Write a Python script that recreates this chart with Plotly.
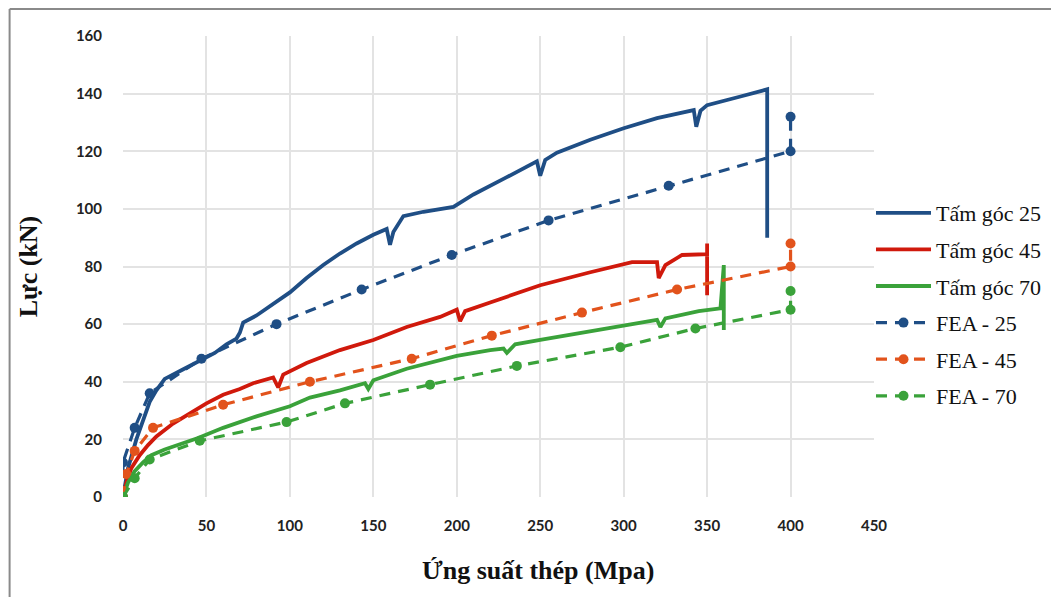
import plotly.graph_objects as go

# ---- data ----
x_t25 = [0, 3, 8, 12, 16, 20, 25, 35, 46, 55, 62, 68, 70, 72, 80, 90, 100, 110, 120, 130, 140, 150, 158, 160, 162,
         168, 180, 198, 210, 230, 248, 250, 253, 260, 280, 300, 320, 342, 343.5, 346, 350, 370, 386, 386]
y_t25 = [0, 10, 20, 27, 33, 37, 41, 44, 47.5, 50, 53, 55, 57, 60.5, 63, 67, 71, 76, 80.5, 84.5, 88, 91, 93, 87.5, 92,
         97.5, 99, 100.7, 105, 111, 116.5, 111.5, 117, 119.5, 124, 128, 131.5, 134.3, 128.5, 134, 136, 139, 141.5, 90]

x_t45 = [0, 2, 5, 10, 15, 20, 30, 40, 50, 60, 70, 78, 90, 93, 96, 110, 130, 150, 170, 190, 200, 202, 205, 220,
         250, 280, 305, 320, 321, 325, 335, 350, 350, 350]
y_t45 = [0, 5, 10, 14.5, 18, 21, 25.5, 29, 32.5, 35.5, 37.5, 39.5, 41.5, 38, 42.5, 46.5, 51, 54.5, 59, 62.5, 65, 61,
         64.5, 67.5, 73.5, 78, 81.5, 81.5, 76, 80.5, 84, 84.3, 88, 70]

x_t70 = [0, 3, 7, 12, 17, 25, 35, 45, 60, 80, 100, 112, 130, 145, 147, 150, 170, 200, 220, 228, 230, 235, 250,
         270, 290, 310, 320, 322, 325, 345, 358, 360, 360]
y_t70 = [0, 5, 9, 12, 14.5, 16.5, 18.5, 20.5, 24, 28, 31.5, 34.5, 37, 39.5, 37.5, 40.5, 44.5, 49, 51, 51.5, 50, 53,
         54.5, 56.5, 58.5, 60.5, 61.5, 59, 62, 64.5, 65.5, 80.5, 58]

x_f25 = [0, 0, 7, 16, 47, 92, 143, 197, 255, 327, 400, 400]
y_f25 = [0, 12, 24, 36, 48, 60, 72, 84, 96, 108, 120, 132]

x_f45 = [0, 2, 7, 18, 60, 112, 173, 221, 275, 332, 400, 400]
y_f45 = [0, 8, 16, 24, 32, 40, 48, 56, 64, 72, 80, 88]

x_f70 = [0, 7, 16, 46, 98, 133, 184, 236, 298, 343, 400, 400]
y_f70 = [0, 6.5, 13, 19.5, 26, 32.5, 39, 45.5, 52, 58.5, 65, 71.5]

x_ticks = [0, 50, 100, 150, 200, 250, 300, 350, 400, 450]
y_ticks = [0, 20, 40, 60, 80, 100, 120, 140, 160]

BLUE = "#1f4e85"
RED = "#d0190c"
ORANGE = "#e2531c"
GREEN = "#3aa23a"

fig = go.Figure()
fig.add_trace(go.Scatter(x=x_t25, y=y_t25, mode="lines", name="Tấm góc 25", legendgroup="a",
                         line=dict(color=BLUE, width=3.8)))
fig.add_trace(go.Scatter(x=x_t45, y=y_t45, mode="lines", name="Tấm góc 45", legendgroup="b",
                         line=dict(color=RED, width=3.8)))
fig.add_trace(go.Scatter(x=x_t70, y=y_t70, mode="lines", name="Tấm góc 70", legendgroup="c",
                         line=dict(color=GREEN, width=3.8)))
fig.add_trace(go.Scatter(x=x_f25, y=y_f25, mode="lines+markers", name="FEA - 25", legendgroup="d",
                         line=dict(color=BLUE, width=3.2, dash="11px,8px"),
                         marker=dict(color=BLUE, size=10)))
fig.add_trace(go.Scatter(x=x_f45, y=y_f45, mode="lines+markers", name="FEA - 45", legendgroup="e",
                         line=dict(color=ORANGE, width=3.2, dash="11px,8px"),
                         marker=dict(color=ORANGE, size=10)))
fig.add_trace(go.Scatter(x=x_f70, y=y_f70, mode="lines+markers", name="FEA - 70", legendgroup="f",
                         line=dict(color=GREEN, width=3.2, dash="11px,8px"),
                         marker=dict(color=GREEN, size=10)))

# outer frame (left and top edges of the chart area)
fig.add_shape(type="line", xref="paper", yref="paper", x0=-0.151, x1=1.3, y0=1.0586, y1=1.0586,
              line=dict(color="#8a8a8a", width=2))
fig.add_shape(type="line", xref="paper", yref="paper", x0=-0.151, x1=-0.151, y0=-0.25, y1=1.0586,
              line=dict(color="#8a8a8a", width=2))

serif = "Liberation Serif, Times New Roman, serif"
fig.add_annotation(text="Ứng suất thép (Mpa)", xref="paper", yref="paper",
                   x=(540 - 123) / 755, y=-(570 - 497) / 461, xanchor="center", yanchor="middle",
                   showarrow=False, font=dict(family=serif, size=26, color="#111111", weight="bold"))

tickfont = dict(family="Lato, Open Sans, sans-serif", size=15, color="#222222", weight="bold")
fig.update_layout(
    width=1051, height=589,
    paper_bgcolor="white", plot_bgcolor="white",
    margin=dict(l=115, r=181, t=28, b=100),
    showlegend=True,
    legend=dict(x=0.996, y=0.6616, xanchor="left", yanchor="top",
                font=dict(family=serif, size=22, color="#111111"),
                tracegroupgap=5, itemwidth=55, bgcolor="rgba(0,0,0,0)"),
    xaxis=dict(range=[0, 450], tickvals=x_ticks, ticktext=[str(v) for v in x_ticks],
               showgrid=True, gridcolor="#e3e3e3", gridwidth=1.5, zeroline=False, showline=False,
               ticks="outside", ticklen=15, tickcolor="rgba(0,0,0,0)", tickfont=tickfont),
    yaxis=dict(range=[0, 160], tickvals=y_ticks, ticktext=[str(v) for v in y_ticks],
               showgrid=True, gridcolor="#e3e3e3", gridwidth=1.5, zeroline=False, showline=False,
               ticks="outside", ticklen=17, tickcolor="rgba(0,0,0,0)", tickfont=tickfont,
               title=dict(text="Lực (kN)", standoff=30,
                          font=dict(family=serif, size=26, color="#111111", weight="bold"))),
)

fig.write_html("out.html")
